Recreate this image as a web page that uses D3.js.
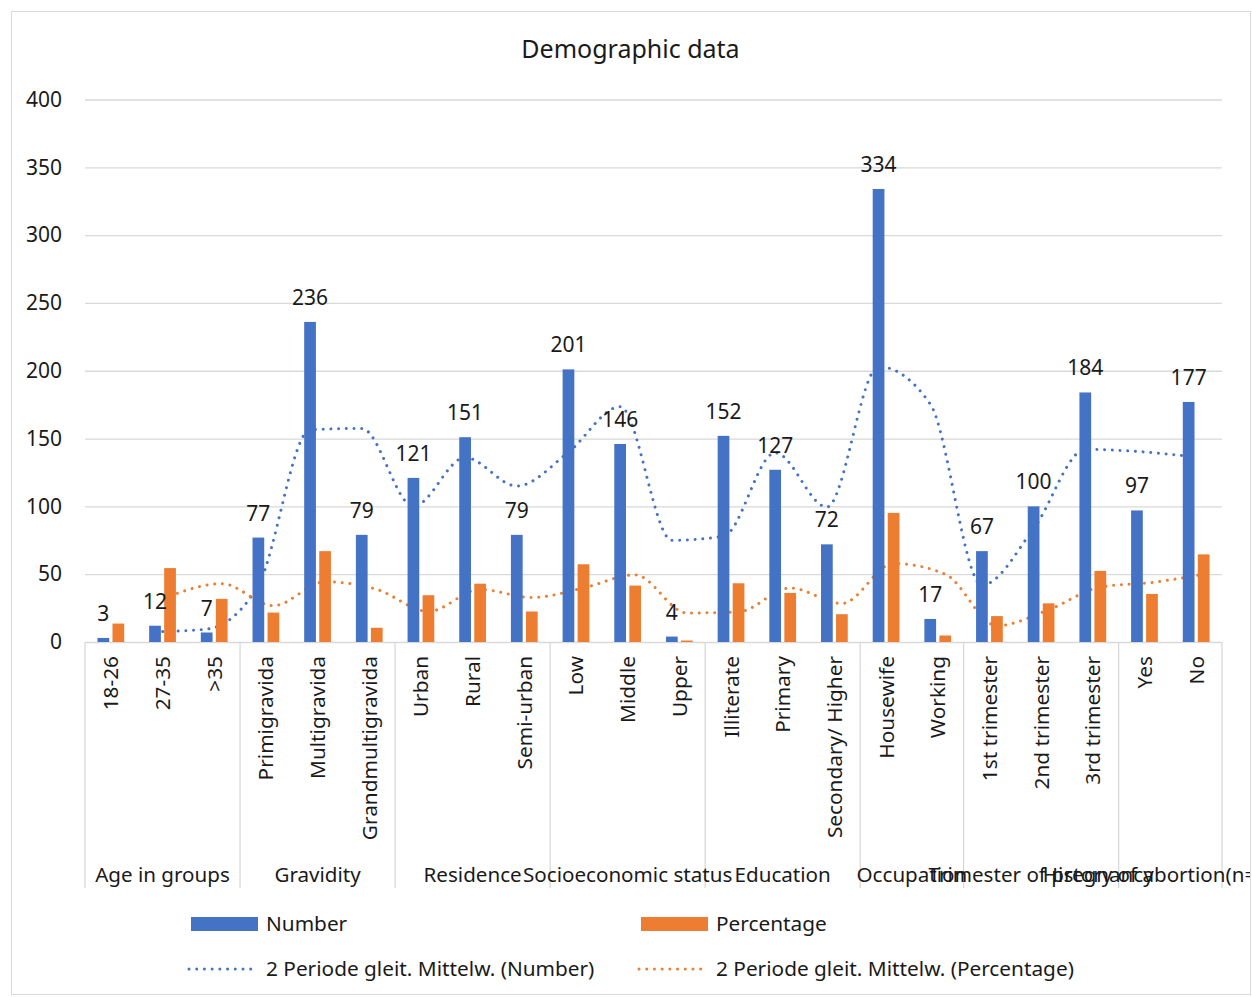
<!DOCTYPE html>
<html>
<head>
<meta charset="utf-8">
<script src="https://cdn.jsdelivr.net/npm/d3@7"></script>
<style>
  body { margin: 0; background: #fff; }
  svg { display: block; font-family: "Noto Sans", sans-serif; }
</style>
</head>
<body>
<div id="container"></div>
<script>
// values
var categories = ["18-26", "27-35", ">35",
  "Primigravida", "Multigravida", "Grandmultigravida",
  "Urban", "Rural", "Semi-urban",
  "Low", "Middle", "Upper",
  "Illiterate", "Primary", "Secondary/ Higher",
  "Housewife", "Working",
  "1st trimester", "2nd trimester", "3rd trimester",
  "Yes", "No"];
var groups = ["Age in groups", "Gravidity", "Residence", "Socioeconomic status",
  "Education", "Occupation", "Trimester of pregnancy", "History of abortion(n=274)"];
var groupSizes = [3, 3, 3, 3, 3, 2, 3, 2];

var numberValues = [3, 12, 7, 77, 236, 79, 121, 151, 79, 201, 146, 4, 152, 127, 72, 334, 17, 67, 100, 184, 97, 177];
var percentValues = [13.6, 54.5, 31.8, 21.7, 67, 10.5, 34.5, 43, 22.5, 57.3, 41.6, 1.1, 43.3, 36.2, 20.5, 95.2, 4.8, 19.1, 28.5, 52.4, 35.4, 64.6];

// 2 period moving averages (trendlines), first point has none
var numberAvg = [null, 7.5, 9.5, 42, 156.5, 157.5, 100, 136, 115, 140, 173.5, 75, 78, 139.5, 99.5, 203, 175.5, 42, 83.5, 142, 140.5, 137];
var percentAvg = [null, 34, 43, 26.8, 44.4, 38.8, 22.5, 38.8, 32.8, 39.9, 49.5, 21.4, 22.2, 39.8, 28.4, 57.9, 50, 12, 23.8, 40.5, 43.9, 50];

var yTicks = [0, 50, 100, 150, 200, 250, 300, 350, 400];
var seriesNames = ["Number", "Percentage"];
var seriesColors = ["#4472C4", "#ED7D31"];

var W = 1252, H = 997;
var plotLeft = 85, plotRight = 1222, plotTop = 99.5, plotBottom = 642;
var textCol = "#1a1a1a";
var gridCol = "#d9d9d9";

var svg = d3.select("div#container")
  .append("svg")
  .attr("width", W)
  .attr("height", H);

svg.append("defs").append("clipPath")
  .attr("id", "chartClip")
  .append("rect")
  .attr("x", 12).attr("y", 12).attr("width", 1238).attr("height", 982);

// chart border
svg.append("rect")
  .attr("x", 11.5).attr("y", 11.5)
  .attr("width", 1239).attr("height", 983)
  .attr("fill", "#fff")
  .attr("stroke", gridCol);

var x = d3.scaleBand()
  .domain(d3.range(categories.length))
  .range([plotLeft, plotRight])
  .padding(0);

var x1 = d3.scaleBand()
  .domain(seriesNames)
  .range([0, x.bandwidth()])
  .paddingInner(0.22)
  .paddingOuter(0.83);

var y = d3.scaleLinear()
  .domain([0, 400])
  .range([plotBottom, plotTop]);

// title
svg.append("text")
  .attr("x", 630.5)
  .attr("y", 58)
  .attr("text-anchor", "middle")
  .style("font-size", "25px")
  .attr("fill", textCol)
  .text("Demographic data");

// y axis with gridlines
var yAxis = svg.append("g")
  .attr("transform", "translate(" + plotLeft + ",0)")
  .call(d3.axisLeft(y).tickValues(yTicks).tickSize(-(plotRight - plotLeft)).tickPadding(23));
yAxis.select(".domain").remove();
yAxis.selectAll(".tick line").attr("stroke", gridCol).attr("stroke-width", 1.3);
yAxis.selectAll(".tick text")
  .attr("fill", textCol)
  .style("font-size", "21px")
  .style("font-family", "'Noto Sans', sans-serif");

// trendlines sit behind the bars
function avgLine(series) {
  return d3.line()
    .defined(function(d) { return d != null; })
    .x(function(d, i) { return x(i) + x1(series) + x1.bandwidth() / 2; })
    .y(function(d) { return y(d); })
    .curve(d3.curveMonotoneX);
}

svg.append("path")
  .attr("d", avgLine("Number")(numberAvg))
  .attr("fill", "none")
  .attr("stroke", seriesColors[0])
  .attr("stroke-width", 3)
  .attr("stroke-linecap", "round")
  .attr("stroke-dasharray", "0.01 7.7");

svg.append("path")
  .attr("d", avgLine("Percentage")(percentAvg))
  .attr("fill", "none")
  .attr("stroke", seriesColors[1])
  .attr("stroke-width", 3)
  .attr("stroke-linecap", "round")
  .attr("stroke-dasharray", "0.01 7.7");

// bars
var rows = categories.map(function(c, i) {
  return {i: i, Number: numberValues[i], Percentage: percentValues[i]};
});

var catG = svg.append("g")
  .selectAll("g")
  .data(rows)
  .enter().append("g")
  .attr("transform", function(d) { return "translate(" + x(d.i) + ",0)"; });

catG.selectAll("rect")
  .data(function(d) { return seriesNames.map(function(s) { return {key: s, value: d[s]}; }); })
  .enter().append("rect")
  .attr("x", function(d) { return x1(d.key); })
  .attr("y", function(d) { return y(d.value); })
  .attr("width", x1.bandwidth())
  .attr("height", function(d) { return y(0) - y(d.value); })
  .attr("fill", function(d, i) { return seriesColors[i]; });

// data labels on Number
catG.append("text")
  .attr("x", x1("Number") + x1.bandwidth() / 2)
  .attr("y", function(d) { return y(d.Number) - 17; })
  .attr("text-anchor", "middle")
  .style("font-size", "21px")
  .attr("fill", textCol)
  .text(function(d) { return d.Number; });

// category labels (rotated)
svg.append("g")
  .selectAll("text")
  .data(categories)
  .enter().append("text")
  .attr("transform", function(d, i) { return "translate(" + (x(i) + x.bandwidth() / 2) + ",656) rotate(-90)"; })
  .attr("text-anchor", "end")
  .attr("dy", "0.36em")
  .style("font-size", "20.8px")
  .attr("fill", textCol)
  .text(function(d) { return d; });

// group dividers and labels
var bounds = [0].concat(Array.from(d3.cumsum(groupSizes)));
var bx = function(k) { return plotLeft + k * x.step(); };

svg.append("g")
  .selectAll("line")
  .data(bounds)
  .enter().append("line")
  .attr("x1", function(d) { return bx(d); })
  .attr("x2", function(d) { return bx(d); })
  .attr("y1", plotBottom)
  .attr("y2", 888)
  .attr("stroke", gridCol)
  .attr("stroke-width", 1.3);

svg.append("g")
  .attr("clip-path", "url(#chartClip)")
  .selectAll("text")
  .data(groups)
  .enter().append("text")
  .attr("x", function(d, i) { return (bx(bounds[i]) + bx(bounds[i + 1])) / 2; })
  .attr("y", 882)
  .attr("text-anchor", "middle")
  .style("font-size", "20.6px")
  .attr("fill", textCol)
  .text(function(d) { return d; });

// legend
var legendX = [191, 641];
var legend = svg.append("g");

legend.selectAll("rect")
  .data(seriesNames)
  .enter().append("rect")
  .attr("x", function(d, i) { return legendX[i]; })
  .attr("y", 917)
  .attr("width", 67)
  .attr("height", 14)
  .attr("fill", function(d, i) { return seriesColors[i]; });

legend.selectAll("text.bar")
  .data(seriesNames)
  .enter().append("text")
  .attr("class", "bar")
  .attr("x", function(d, i) { return legendX[i] + 75; })
  .attr("y", 931)
  .style("font-size", "20.8px")
  .attr("fill", textCol)
  .text(function(d) { return d; });

legend.selectAll("line")
  .data(seriesNames)
  .enter().append("line")
  .attr("x1", function(d, i) { return legendX[i] - 2; })
  .attr("x2", function(d, i) { return legendX[i] + 67; })
  .attr("y1", 969)
  .attr("y2", 969)
  .attr("stroke", function(d, i) { return seriesColors[i]; })
  .attr("stroke-width", 3)
  .attr("stroke-linecap", "round")
  .attr("stroke-dasharray", "0.01 7.7");

legend.selectAll("text.avg")
  .data(seriesNames)
  .enter().append("text")
  .attr("class", "avg")
  .attr("x", function(d, i) { return legendX[i] + 75; })
  .attr("y", 976)
  .style("font-size", "20.8px")
  .attr("fill", textCol)
  .text(function(d) { return "2 Periode gleit. Mittelw. (" + d + ")"; });
</script>
</body>
</html>
